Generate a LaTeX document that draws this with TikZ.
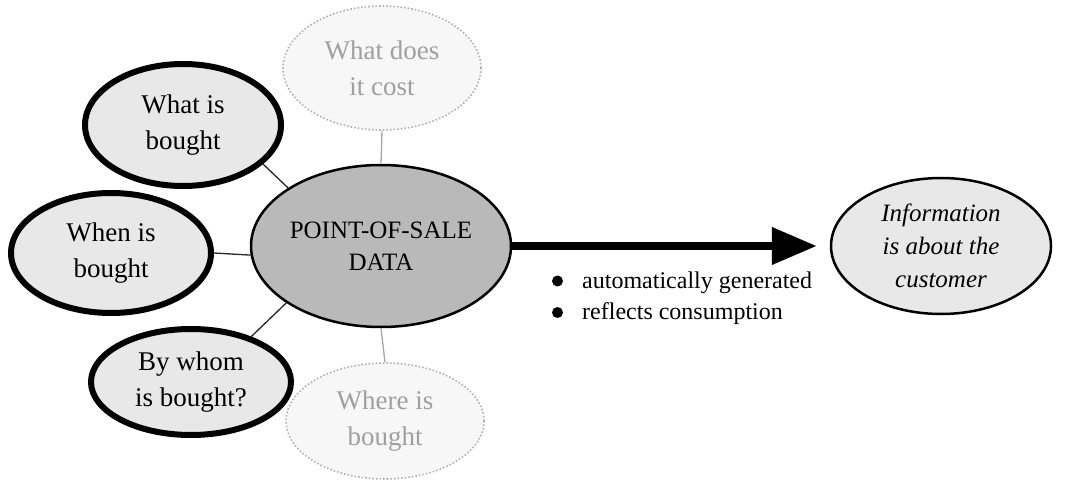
\documentclass[tikz,border=0pt]{standalone}
\usepackage{fontspec}
\setmainfont{Liberation Serif}
\usetikzlibrary{shapes.geometric,arrows.meta}
\tikzset{
  side/.style={ellipse, draw=black, line width=6pt, fill=gray!18, inner sep=0pt, align=center,
    font=\fontsize{27}{36}\selectfont},
  faint/.style={ellipse, draw=gray!60, dotted, line width=1.6pt, fill=gray!6, inner sep=0pt, align=center,
    text=gray!75, font=\fontsize{27}{36}\selectfont},
  link/.style={line width=1.3pt, draw=black!85},
  flink/.style={line width=1.3pt, draw=gray!70},
  btext/.style={anchor=base west, inner sep=0pt, font=\fontsize{24}{28}\selectfont}
}
\begin{document}
\begin{tikzpicture}[x=1pt,y=-1pt]
\useasboundingbox (0,0) rectangle (1087,481);
\node[ellipse, draw=black, line width=2.5pt, fill=gray!55, inner sep=0pt, minimum width=260pt, minimum height=162pt,
  align=center, font=\fontsize{25}{32}\selectfont] (pos) at (381,246) {POINT-OF-SALE\\DATA};
\node[side, minimum width=196pt, minimum height=122pt] (what) at (183,125) {What is\\bought};
\node[side, minimum width=200pt, minimum height=120pt] (when) at (111,253) {When is\\bought};
\node[side, minimum width=200pt, minimum height=106pt] (whom) at (191,382) {By whom\\is bought?};
\node[faint, minimum width=198pt, minimum height=124pt] (cost) at (382,68) {What does\\it cost};
\node[faint, minimum width=198pt, minimum height=116pt] (where) at (385,421) {Where is\\bought};
\node[ellipse, draw=black, line width=2.5pt, fill=gray!18, inner sep=0pt, minimum width=220pt, minimum height=136pt,
  align=center, font=\itshape\fontsize{25}{33}\selectfont] (info) at (941,246) {Information\\is about the\\customer};
\draw[link] (what.-26.6) -- (pos.148.4);
\draw[link] (when.east) -- (pos.184);
\draw[link] (whom.37.4) -- (pos.211.6);
\draw[flink] (cost.south) -- (pos.north);
\draw[flink] (where.north) -- (pos.south);
\draw[line width=7.5pt, -{Triangle[length=45pt,width=36pt]}, shorten >=13pt] (pos.east) -- (info.west);
\node[btext] (b1) at (582,288) {automatically generated};
\node[btext] (b2) at (582,319) {reflects consumption};
\fill (557.5,281) circle (5.5pt);
\fill (557.5,312.5) circle (5.5pt);
\end{tikzpicture}
\end{document}
